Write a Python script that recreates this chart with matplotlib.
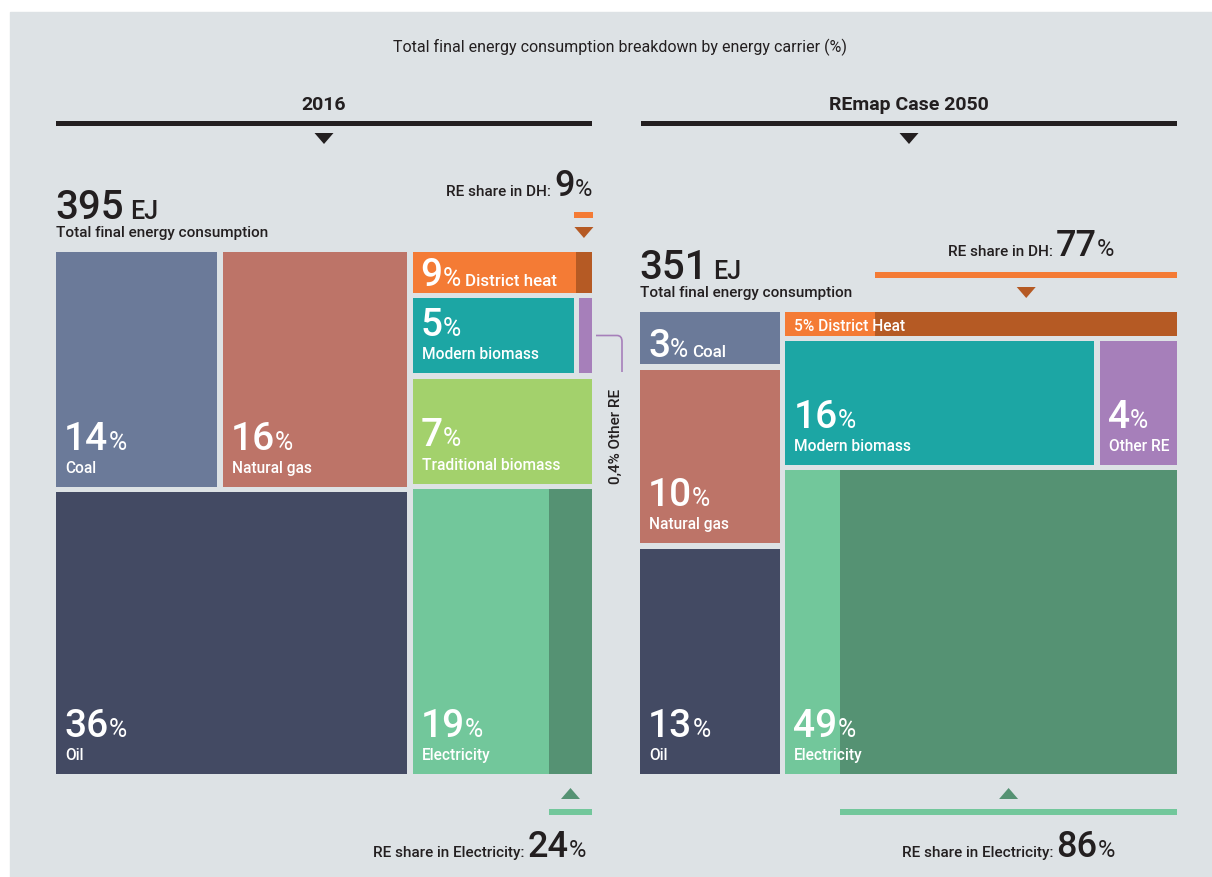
import matplotlib.pyplot as plt
from matplotlib.patches import Rectangle, Polygon, PathPatch
from matplotlib.path import Path

plt.rcParams['font.family'] = ['Roboto', 'DejaVu Sans']

W, H = 1212, 877
BG = "#dde2e5"
INK = "#231f20"
GAP = 5.5

# ---- data ----
panel_titles = ["2016", "REmap Case 2050"]
total_ej = [395, 351]
re_share_dh = [9, 77]
re_share_elec = [24, 86]

carriers_2016 = ["Coal", "Natural gas", "Oil", "District heat", "Modern biomass",
                 "Other RE", "Traditional biomass", "Electricity"]
shares_2016 = [14, 16, 36, 9, 5, 0.4, 7, 19]

carriers_2050 = ["Coal", "Natural gas", "Oil", "District Heat", "Modern biomass",
                 "Other RE", "Electricity"]
shares_2050 = [3, 10, 13, 5, 16, 4, 49]

# the district heat tile is drawn smaller than its share in the source
dh_tile = [2.7, 3.8]

COL = {
    "Coal": "#6b7a99", "Natural gas": "#bd7468", "Oil": "#434a63",
    "dh": "#f47b35", "dh_re": "#b55a24", "Modern biomass": "#1ca6a4",
    "Other RE": "#a67fba", "Traditional biomass": "#a3d16c",
    "el": "#72c79b", "el_re": "#559273",
}

fig = plt.figure(figsize=(W / 100, H / 100), dpi=100)
ax = fig.add_axes([0, 0, 1, 1])
ax.set_xlim(0, W)
ax.set_ylim(H, 0)
ax.axis('off')
ax.add_patch(Rectangle((10, 12), W, H, color=BG, zorder=0))
renderer = fig.canvas.get_renderer()


def split(box, weights, horizontal):
    x0, y0, x1, y1 = box
    span = (x1 - x0 if horizontal else y1 - y0) - GAP * (len(weights) - 1)
    total = sum(weights)
    out, pos = [], (x0 if horizontal else y0)
    for w in weights:
        size = span * w / total
        out.append((pos, y0, pos + size, y1) if horizontal else (x0, pos, x1, pos + size))
        pos += size + GAP
    return out


def rect(box, color, re_frac=None, re_color=None):
    x0, y0, x1, y1 = box
    ax.add_patch(Rectangle((x0, y0), x1 - x0, y1 - y0, color=color, lw=0, zorder=2))
    if re_frac:
        w = (x1 - x0) * re_frac
        ax.add_patch(Rectangle((x1 - w, y0), w, y1 - y0, color=re_color, lw=0, zorder=3))


def text_width(s, size, weight):
    t = ax.text(0, 0, s, fontsize=size, fontweight=weight)
    w = t.get_window_extent(renderer).width
    t.remove()
    return w


def runs(x, y, parts, ha='left', color=INK):
    # parts: (text, size, weight, pad after)
    widths = [text_width(s, sz, wt) for s, sz, wt, _ in parts]
    total = sum(widths) + sum(p[3] for p in parts[:-1])
    if ha == 'right':
        x -= total
    elif ha == 'center':
        x -= total / 2
    for (s, sz, wt, pad), w in zip(parts, widths):
        ax.text(x, y, s, fontsize=sz, fontweight=wt, color=color,
                va='baseline', ha='left', zorder=5)
        x += w + pad


def fmt(v):
    return f"{v:g}".replace('.', ',')


NUM, PCT, LAB = 28, 18, 11.2


def cell_label(box, pct, name, mode):
    x0, y0, x1, y1 = box
    if mode == 'stack':
        runs(x0 + 8, y1 - 37, [(fmt(pct), NUM, 'medium', 0), ("%", PCT, 'normal', 0)],
             color='white')
        ax.text(x0 + 9, y1 - 14, name, fontsize=LAB, fontweight='medium',
                color='white', va='baseline', zorder=5)
    elif mode == 'inline':
        runs(x0 + 8, y1 - 7, [(fmt(pct), NUM, 'medium', 0), ("%", PCT, 'normal', 4),
                              (name, LAB + 1, 'medium', 0)], color='white')
    elif mode == 'small':
        ax.text(x0 + 9, y1 - 5, f"{fmt(pct)}% {name}", fontsize=LAB, fontweight='medium',
                color='white', va='baseline', zorder=5)


def tri(cx, y_top, up, color):
    hw, h = 9.5, 11
    if up:
        pts = [(cx - hw, y_top + h), (cx + hw, y_top + h), (cx, y_top)]
    else:
        pts = [(cx - hw, y_top), (cx + hw, y_top), (cx, y_top + h)]
    ax.add_patch(Polygon(pts, closed=True, color=color, lw=0, zorder=4))


def header(x0, x1, title):
    cx = (x0 + x1) / 2
    ax.text(cx, 110, title, fontsize=14, fontweight='bold', color=INK,
            ha='center', va='baseline')
    ax.add_patch(Rectangle((x0, 121), x1 - x0, 5, color=INK, lw=0))
    tri(cx, 133, False, INK)


def total_label(x, top, ej):
    runs(x - 1, top - 33, [(str(ej), 29, 'medium', 6), ("EJ", 18, 'medium', 0)])
    ax.text(x, top - 15, "Total final energy consumption", fontsize=11,
            fontweight='medium', color=INK, va='baseline')


def share_parts(label, share):
    return [(label, 11, 'medium', 3), (str(share), 26, 'medium', 0), ("%", 17, 'normal', 0)]


def dh_marker(box, share, ha):
    x0, y0, x1, y1 = box
    w = (x1 - x0) * share / 100
    bx0, bx1 = x1 - w, x1
    if bx1 - bx0 < 19:
        c = (bx0 + bx1) / 2
        bx0, bx1 = c - 9.5, c + 9.5
    ax.add_patch(Rectangle((bx0, y0 - 40), bx1 - bx0, 5.5, color=COL["dh"], lw=0))
    tri((bx0 + bx1) / 2, y0 - 25, False, COL["dh_re"])
    parts = share_parts("RE share in DH:", share)
    if ha == 'right':
        runs(x1, y0 - 56, parts, ha='right')
    else:
        runs((bx0 + bx1) / 2 + 5, y0 - 56, parts, ha='center')


def el_marker(box, share, ha):
    x0, y0, x1, y1 = box
    w = (x1 - x0) * share / 100
    ax.add_patch(Rectangle((x1 - w, y1 + 35), w, 5.5, color=COL["el"], lw=0))
    tri(x1 - w / 2, y1 + 14, True, COL["el_re"])
    parts = share_parts("RE share in Electricity:", share)
    if ha == 'right':
        runs(x1 - 6, y1 + 83, parts, ha='right')
    else:
        runs(x1 - w / 2, y1 + 83, parts, ha='center')


# title
ax.text(620, 52, "Total final energy consumption breakdown by energy carrier (%)",
        fontsize=11.5, color=INK, ha='center', va='baseline')

# ---- 2016 ----
s = dict(zip(carriers_2016, shares_2016))
panel = (56, 252, 592, 774)
header(56, 592, panel_titles[0])
total_label(56, panel[1], total_ej[0])
left, right = split(panel, [s["Coal"] + s["Natural gas"] + s["Oil"],
                            dh_tile[0] + s["Modern biomass"] + s["Traditional biomass"]
                            + s["Electricity"]], True)
top, oil_b = split(left, [s["Coal"] + s["Natural gas"], s["Oil"]], False)
coal_b, gas_b = split(top, [s["Coal"], s["Natural gas"]], True)
dh_b, mb_row, tb_b, el_b = split(right, [dh_tile[0], s["Modern biomass"],
                                         s["Traditional biomass"], s["Electricity"]], False)
mb_b, oth_b = split(mb_row, [s["Modern biomass"], s["Other RE"]], True)

for b, n in [(coal_b, "Coal"), (gas_b, "Natural gas"), (oil_b, "Oil"),
             (mb_b, "Modern biomass"), (oth_b, "Other RE"), (tb_b, "Traditional biomass")]:
    rect(b, COL[n])
rect(dh_b, COL["dh"], re_share_dh[0] / 100, COL["dh_re"])
rect(el_b, COL["el"], re_share_elec[0] / 100, COL["el_re"])

for b, n, m in [(coal_b, "Coal", 'stack'), (gas_b, "Natural gas", 'stack'),
                (oil_b, "Oil", 'stack'), (dh_b, "District heat", 'inline'),
                (mb_b, "Modern biomass", 'stack'), (tb_b, "Traditional biomass", 'stack'),
                (el_b, "Electricity", 'stack')]:
    cell_label(b, s[n], n, m)

# other RE callout
ox1 = oth_b[2]
cy = (oth_b[1] + oth_b[3]) / 2
lx = ox1 + 30
verts = [(ox1 + 4, cy), (lx - 5, cy), (lx, cy), (lx, cy + 6), (lx, oth_b[3] - 1)]
codes = [Path.MOVETO, Path.LINETO, Path.CURVE3, Path.CURVE3, Path.LINETO]
ax.add_patch(PathPatch(Path(verts, codes), fc='none', ec=COL["Other RE"], lw=1.2, zorder=4))
ax.text(lx - 6, oth_b[3] + 16, f"{fmt(s['Other RE'])}% Other RE", fontsize=11,
        fontweight='medium', color=INK, rotation=90, ha='center', va='top')

dh_marker(dh_b, re_share_dh[0], 'right')
el_marker(el_b, re_share_elec[0], 'right')

# ---- REmap 2050 ----
s = dict(zip(carriers_2050, shares_2050))
panel = (640, 312, 1177, 774)
header(641, 1177, panel_titles[1])
total_label(640, panel[1], total_ej[1])
left, right = split(panel, [s["Coal"] + s["Natural gas"] + s["Oil"],
                            dh_tile[1] + s["Modern biomass"] + s["Other RE"]
                            + s["Electricity"]], True)
coal_b, gas_b, oil_b = split(left, [s["Coal"], s["Natural gas"], s["Oil"]], False)
dh_b, mb_row, el_b = split(right, [dh_tile[1], s["Modern biomass"] + s["Other RE"],
                                   s["Electricity"]], False)
mb_b, oth_b = split(mb_row, [s["Modern biomass"], s["Other RE"]], True)

for b, n in [(coal_b, "Coal"), (gas_b, "Natural gas"), (oil_b, "Oil"),
             (mb_b, "Modern biomass"), (oth_b, "Other RE")]:
    rect(b, COL[n])
rect(dh_b, COL["dh"], re_share_dh[1] / 100, COL["dh_re"])
rect(el_b, COL["el"], re_share_elec[1] / 100, COL["el_re"])

for b, n, m in [(coal_b, "Coal", 'inline'), (gas_b, "Natural gas", 'stack'),
                (oil_b, "Oil", 'stack'), (dh_b, "District Heat", 'small'),
                (mb_b, "Modern biomass", 'stack'), (oth_b, "Other RE", 'stack'),
                (el_b, "Electricity", 'stack')]:
    cell_label(b, s[n], n, m)

dh_marker(dh_b, re_share_dh[1], 'center')
el_marker(el_b, re_share_elec[1], 'center')

fig.savefig("out.png", dpi=100, facecolor='white')
